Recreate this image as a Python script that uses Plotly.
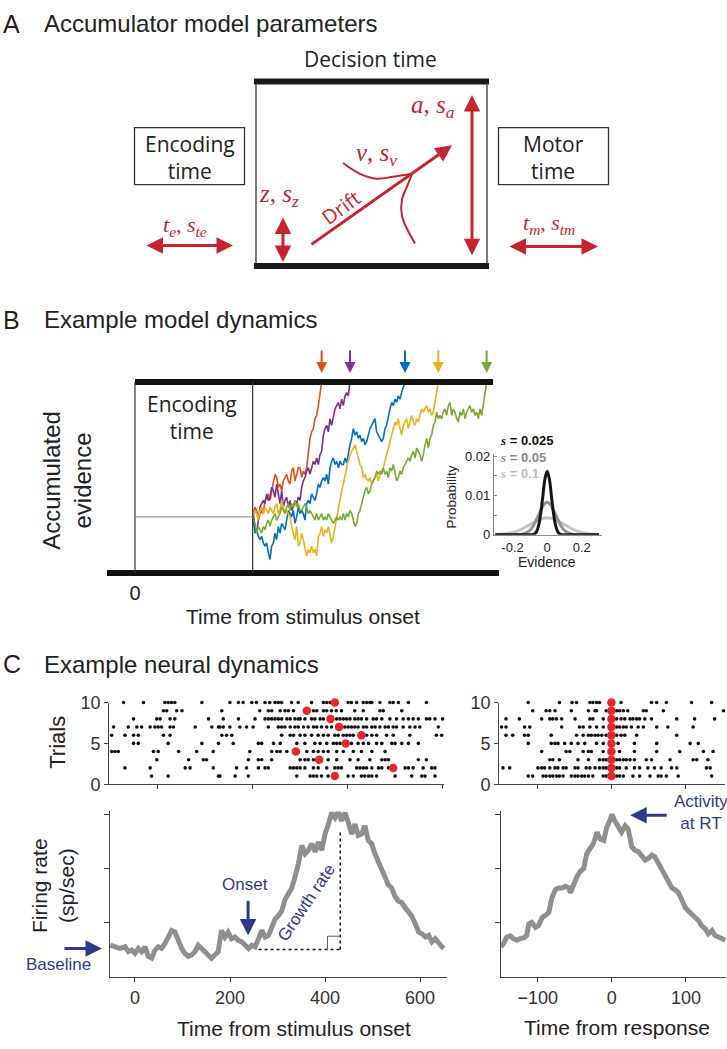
import plotly.graph_objects as go

W, H = 727, 1049

# ---------------- Panel B: example model dynamics (time in ms, evidence in arbitrary units) ----
ENCODING_END = 353
START_EVIDENCE = 172
BOUND = 584
B_T0 = 355
B_DT = 5
orange_ev = [182,202,192,162,182,192,182,222,232,242,222,252,272,302,292,262,272,252,282,292,
             302,282,272,312,322,282,302,322,322,292,312,302,322,362,412,432,442,472,482,512,542,584]
purple_ev = [182,142,122,162,202,212,222,212,242,222,232,262,252,232,272,242,212,252,202,222,
             232,202,222,192,202,222,212,232,222,262,282,292,312,322,302,322,342,332,352,332,
             362,372,422,442,452,432,472,452,482,502,512,522,502,532,512,542,552,542,584]
blue_ev = [162,122,132,112,102,112,92,82,92,62,42,82,92,122,102,142,122,152,142,132,
           162,192,182,172,192,152,172,202,182,192,182,162,212,222,212,242,232,222,242,272,
           262,282,292,282,302,272,322,342,352,332,342,322,342,332,332,352,337,372,392,412,
           442,422,432,412,422,402,412,392,402,422,442,452,462,472,432,422,412,402,412,442,
           452,482,502,522,512,532,522,542,532,552,572,584]
yellow_ev = [182,192,182,162,192,202,182,202,192,182,202,192,182,202,212,182,192,222,202,182,
             192,182,172,142,122,102,142,82,92,122,102,72,52,72,62,82,62,72,52,112,
             122,142,112,132,122,142,112,92,112,142,162,192,222,252,272,302,322,342,362,372,
             382,392,372,352,332,322,292,302,287,282,292,272,282,292,302,282,302,312,322,342,
             362,382,402,422,442,462,452,472,442,422,452,462,472,442,462,482,462,452,472,462,
             482,502,492,502,512,492,502,482,492,522,552,584]
green_ev = [162,152,122,142,132,122,142,132,152,162,142,162,172,182,162,172,182,202,192,182,
            202,212,192,212,202,222,202,212,192,192,202,212,202,182,192,182,172,162,182,162,
            172,182,162,172,162,182,172,162,152,162,172,162,172,162,182,162,182,172,192,182,
            162,142,152,182,192,212,232,252,262,242,252,272,282,292,312,302,312,302,322,302,
            312,292,322,312,332,302,282,292,312,302,322,332,342,352,342,362,372,352,382,372,
            362,342,362,392,412,382,412,422,452,462,492,472,482,472,492,502,482,512,522,482,
            502,492,472,462,492,482,502,472,492,502,512,492,502,482,492,472,502,482,512,542,584]
b_series = [("orange", orange_ev, "#D95319"), ("purple", purple_ev, "#7E2F8E"),
            ("blue", blue_ev, "#0072BD"), ("yellow", yellow_ev, "#EDB120"),
            ("green", green_ev, "#77AC30")]

# ---------------- Panel B inset: evidence noise distributions ----------------
inset_x = [-0.30,-0.25,-0.20,-0.175,-0.15,-0.125,-0.10,-0.0875,-0.075,-0.0625,-0.05,-0.0375,-0.025,-0.0125,0,
           0.0125,0.025,0.0375,0.05,0.0625,0.075,0.0875,0.10,0.125,0.15,0.175,0.20,0.25,0.30]
p_s0025 = [0,0,0,0,0,0,0,0.00005,0.0002,0.0007,0.0022,0.0053,0.0098,0.0143,0.0162,
           0.0143,0.0098,0.0053,0.0022,0.0007,0.0002,0.00005,0,0,0,0,0,0,0]
p_s005 = [0,0,0,0.00002,0.0001,0.0004,0.0011,0.0018,0.0027,0.0038,0.0050,0.0062,0.0073,0.0080,0.0083,
          0.0080,0.0073,0.0062,0.0050,0.0038,0.0027,0.0018,0.0011,0.0004,0.0001,0.00002,0,0,0]
p_s01 = [0.00005,0.0002,0.0006,0.0009,0.0014,0.0020,0.0026,0.0029,0.0032,0.0035,0.0038,0.0040,0.00417,0.00427,0.0043,
         0.00427,0.00417,0.0040,0.0038,0.0035,0.0032,0.0029,0.0026,0.0020,0.0014,0.0009,0.0006,0.0002,0.00005]
inset_labels = ["s = 0.025", "s = 0.05", "s = 0.1"]

# ---------------- Panel C: rasters ----------------
spikes_stim = [
    [-13,22,128,131,163,191,293,321,328,335,345,359,401,412,429,436,444,451,461,500,535,556,563,584],
    [-69,-16,58,68,117,166,187,212,226,233,279,286,293,300,310,328,338,356,373,380,387,419,426,433,440,451,465,472,486,521,528,538,559,577,584],
    [-2,65,96,103,191,212,219,240,300,310,317,328,359,377,405,422,447,472,479,486,549,566],
    [-97,-90,-83,-9,1,44,82,117,194,240,251,258,272,314,328,338,349,359,377,391,412,429,451,479],
    [-51,-41,22,93,128,159,212,219,244,258,293,310,331,342,356,370,377,384,408,422,433,444,461,472,493,500,514,528,549],
    [-97,-69,-51,-41,12,26,135,145,156,261,279,286,300,310,324,338,349,359,373,380,391,398,405,412,440,451,461,482,496,531,587,598],
    [-93,-62,-44,-34,-16,-6,1,8,26,33,79,114,128,131,138,152,173,187,201,233,254,261,268,279,289,296,307,317,328,335,345,356,366,394,401,408,415,422,433,440,451,458,468,479,486,496,503,517,531,542,552,591],
    [-51,-2,5,26,36,107,138,170,205,226,233,240,247,254,261,272,279,289,296,300,310,324,331,342,349,377,384,391,398,405,415,422,429,440,454,461,472,489,503,517,528,538,549,566,573,584,600],
    [12,19,40,51,135,215,233,240,258,268,275,286,328,335,349,356,366,376,387,415,433,468,475,514],
    [-72,-30,15,22,29,36,93,152,170,180,198,208,226,236,247,254,261,282,296,324,349,356,363,401,408,419,433,440,447,451,468,489,496,507,528,566],
]
rt_stim = [373, 496, 340, 291, 396, 429, 382, 364, 314, 373]
spikes_resp = [
    [-112,-106,-92,-88,-83,-79,-74,-70,-65,-54,-49,-45,-40,-36,-31,-25,-11,-7,7,11,16,29,38,52,63,67,74,90,135],
    [-146,-137,-99,-94,-90,-83,-76,-72,-65,-61,-49,-45,-34,-29,-22,-16,-11,-7,7,11,20,31,38,49,58,67,81,88,128,133],
    [-83,-79,-70,-45,-31,-16,-11,-7,7,11,16,20,25,31,47,54,79,110,115,130],
    [-94,-61,-56,-38,-31,-27,-11,11,31,61,92,124,137],
    [-112,-81,-76,-72,-63,-54,-45,-36,-20,-11,9,31,61,106,117],
    [-142,-133,-117,-112,-81,-47,-38,-31,-27,-22,-18,-13,-7,7,13,18,34,88],
    [-148,-142,-117,-110,-67,-43,-38,-29,-20,-11,7,11,16,20,27,36,43,61,76,110],
    [-142,-124,-94,-83,-79,-74,-67,-49,-29,-25,-11,7,13,18,25,29,34,38,45,54,88,112,139],
    [-106,-88,-83,-76,-54,-31,-22,-20,-7,7,11,16,22,43,47,70,151],
    [-112,-70,-53,-47,-29,-25,-20,-16,13,54,61,74,108,135],
]
trials = [1, 2, 3, 4, 5, 6, 7, 8, 9, 10]

# ---------------- Panel C: firing rates ----------------
fr_stim_t = [-52,-42,-32,-21,-14,-7,0,7,14,21,28,35,42,49,56,63,70,77,84,91,98,105,112,119,126,133,140,147,154,161,
             168,175,182,189,196,203,210,217,225,232,239,246,253,260,267,274,281,288,295,302,309,316,323,330,337,344,
             351,358,365,372,379,386,393,400,407,414,421,428,435,442,449,456,463,470,477,484,491,498,505,512,519,526,
             533,540,547,554,561,568,575,582,590,597,604,611,618,625,632,639,646,650]
fr_stim = [11.7,11.1,10.5,11.1,9.3,9.9,8.7,10.5,9.3,11.1,7.5,6.9,9.9,11.1,10.5,12.3,14.7,17.1,16.5,12.9,10.5,8.7,7.5,8.1,9.3,11.7,10.5,9.9,8.7,6.9,
           8.1,9.3,17.1,14.7,16.5,14.1,14.7,13.5,12.9,11.7,10.5,11.7,11.1,14.1,17.1,14.7,15.3,18.3,21.4,22.6,24.4,28.6,30.4,32.8,37.0,41.8,
           48.5,45.4,46.7,49.1,46.1,49.7,46.7,52.7,56.3,60.5,58.7,61.0,57.5,60.5,56.9,52.7,56.3,52.1,52.7,55.7,50.3,49.1,45.4,42.5,38.8,37.0,
           34.0,32.8,29.7,28.0,27.4,25.6,24.4,22.6,19.5,16.5,15.9,14.7,15.3,12.9,14.1,12.3,11.1,10.5]
fr_resp_t = [-150,-146,-142,-137,-133,-128,-124,-119,-115,-112,-108,-103,-99,-94,-90,-85,-81,-76,-72,-67,-63,-58,-56,-52,-47,-43,-38,-34,-29,-25,
             -20,-16,-11,-7,-2,0,4,9,13,18,22,27,31,36,40,45,49,54,58,63,67,72,76,81,85,90,94,99,103,108,112,117,121,126,130,135,139,144,148,153]
fr_resp = [11.1,12.3,14.7,15.1,14.1,13.5,14.1,14.4,15.3,19.5,20.1,18.3,18.9,21.9,22.6,23.8,29.2,32.2,32.8,32.8,33.4,32.8,31.0,34.0,37.0,38.8,40.0,45.4,47.3,49.1,
           53.3,50.9,50.3,55.1,58.1,59.9,57.5,55.1,53.3,55.7,54.5,47.9,46.7,46.1,44.9,43.1,43.7,44.9,44.3,41.8,39.4,36.4,34.6,32.8,32.2,31.0,28.6,25.6,24.4,23.2,
           22.0,20.7,18.9,17.7,15.9,17.1,15.3,14.7,14.1,13.5]
baseline_rate = 10.1
onset_time = 260
growth_end_time = 432
growth_end_rate = 53.3

stim_ticks = [0, 200, 400, 600]
resp_ticks = [-100, 0, 100]

# ---------------- style ----------------
SANS = "Liberation Sans, Arial, sans-serif"
HUMAN = "Open Sans, Liberation Sans, sans-serif"
SERIF = "Liberation Serif, Times New Roman, serif"
RED = "#c6232f"
NAVY = "#2e3a8c"
AX = "#444444"
TXT = "#222222"
FR_GRAY = "#8f8f8f"


def dom_x(a, b):
    return [a / W, b / W]


def dom_y(top, bottom):
    return [1 - bottom / H, 1 - top / H]


fig = go.Figure()

# ---- panel A schematic curve (drift variability) on the page-pixel overlay axis
curve_a1_x = [343, 360, 377, 393, 412]
curve_a1_y = [156, 167, 172, 170, 167]
curve_a2_x = [412, 407, 402, 402, 407, 415]
curve_a2_y = [167, 180, 193, 210, 223, 238]
for cx, cy in [(curve_a1_x, curve_a1_y), (curve_a2_x, curve_a2_y)]:
    fig.add_trace(go.Scatter(x=cx, y=cy, mode="lines", xaxis="x", yaxis="y",
                             line=dict(color=RED, width=2, shape="spline", smoothing=1.0),
                             hoverinfo="skip", showlegend=False))

# ---- panel B traces
for name, ev, col in b_series:
    t = [ENCODING_END] + [B_T0 + B_DT * i for i in range(len(ev))]
    y = [START_EVIDENCE] + ev
    fig.add_trace(go.Scatter(x=t, y=y, mode="lines", xaxis="x2", yaxis="y2", name=name,
                             line=dict(color=col, width=1.6), showlegend=False))

# ---- inset
for p, col in [(p_s01, "#c4c4c4"), (p_s005, "#939393"), (p_s0025, "#151515")]:
    fig.add_trace(go.Scatter(x=inset_x, y=p, mode="lines", xaxis="x3", yaxis="y3",
                             line=dict(color=col, width=3, shape="spline"), showlegend=False))

# ---- rasters
for spikes, axx, axy in [(spikes_stim, "x4", "y4"), (spikes_resp, "x5", "y5")]:
    xs, ys = [], []
    for tr, st in zip(trials, spikes):
        xs += st
        ys += [tr] * len(st)
    fig.add_trace(go.Scatter(x=xs, y=ys, mode="markers", xaxis=axx, yaxis=axy,
                             marker=dict(color="#111111", size=3.6), cliponaxis=False,
                             showlegend=False))
fig.add_trace(go.Scatter(x=rt_stim, y=trials, mode="markers", xaxis="x4", yaxis="y4",
                         marker=dict(color="#e8262b", size=8.5), cliponaxis=False, showlegend=False))
fig.add_trace(go.Scatter(x=[0] * len(trials), y=trials, mode="markers", xaxis="x5", yaxis="y5",
                         marker=dict(color="#e8262b", size=8.5), cliponaxis=False, showlegend=False))

# ---- firing rates
fig.add_trace(go.Scatter(x=fr_stim_t, y=fr_stim, mode="lines", xaxis="x6", yaxis="y6",
                         line=dict(color=FR_GRAY, width=5), cliponaxis=False, showlegend=False))
fig.add_trace(go.Scatter(x=fr_resp_t, y=fr_resp, mode="lines", xaxis="x7", yaxis="y7",
                         line=dict(color=FR_GRAY, width=5), cliponaxis=False, showlegend=False))

shapes = []
annotations = []


def line(x0, y0, x1, y1, color, width, ref=("x", "y"), dash="solid"):
    shapes.append(dict(type="line", x0=x0, y0=y0, x1=x1, y1=y1, xref=ref[0], yref=ref[1],
                       line=dict(color=color, width=width, dash=dash), layer="above"))


def text(x, y, s, size, color=TXT, family=SANS, xanchor="center", angle=0, ref=("x", "y")):
    annotations.append(dict(x=x, y=y, text=s, xref=ref[0], yref=ref[1], showarrow=False,
                            xanchor=xanchor, yanchor="middle", textangle=angle,
                            font=dict(size=size, color=color, family=family)))


def arrow(x, y, ax, ay, color, width=3, size=1.0, side="end", ref=("x", "y"), pixel=False):
    annotations.append(dict(x=x, y=y, ax=ax, ay=ay, xref=ref[0], yref=ref[1],
                            axref="pixel" if pixel else ref[0], ayref="pixel" if pixel else ref[1],
                            text="", showarrow=True, arrowhead=2, arrowsize=size, arrowwidth=width,
                            arrowcolor=color, arrowside=side, standoff=0, startstandoff=0))


# ---------------- panel titles
for lab, ttl, yy in [("A", "Accumulator model parameters", 14), ("B", "Example model dynamics", 316),
                     ("C", "Example neural dynamics", 667)]:
    text(1, yy, lab, 25, xanchor="left")
    text(42, yy, ttl, 24, xanchor="left")

# ---------------- panel A schematic (page-pixel overlay coordinates)
shapes.append(dict(type="rect", x0=134.5, x1=244.5, y0=120, y1=178, xref="x", yref="y",
                   line=dict(color="#333", width=1.3)))
shapes.append(dict(type="rect", x0=498.5, x1=608.5, y0=120, y1=178, xref="x", yref="y",
                   line=dict(color="#333", width=1.3)))
text(189.5, 150, "Encoding<br>time", 21, family=HUMAN)
text(553.5, 150, "Motor<br>time", 21, family=HUMAN)
text(370, 50, "Decision time", 21, family=HUMAN)
line(256, 76, 256, 259, "#333", 1.3)
line(487, 76, 487, 259, "#333", 1.3)
line(254, 73, 489, 73, "#1a1a1a", 6)
line(254, 261, 489, 261, "#1a1a1a", 6)
arrow(233, 240, 145, 240, RED, 3, 1.1, "end+start")
arrow(598, 241, 508, 241, RED, 3, 1.1, "end+start")
arrow(283, 257, 283, 210, RED, 3, 1.1, "end+start")
arrow(472, 250, 472, 85, RED, 3, 1.1, "end+start")
arrow(452, 138, 310, 240, RED, 3, 1.1, "end")
text(341, 201, "Drift", 20, color=RED, family=HUMAN, angle=-36)
text(409, 98, "<i>a</i>, <i>s<sub>a</sub></i>", 25, color=RED, family=SERIF, xanchor="left")
text(354, 147, "<i>v</i>, <i>s<sub>v</sub></i>", 25, color=RED, family=SERIF, xanchor="left")
text(257, 189, "<i>z</i>, <i>s<sub>z</sub></i>", 25, color=RED, family=SERIF, xanchor="left")
text(161, 220, "<i>t<sub>e</sub></i>, <i>s<sub>te</sub></i>", 22, color=RED, family=SERIF, xanchor="left")
text(521, 218, "<i>t<sub>m</sub></i>, <i>s<sub>tm</sub></i>", 22, color=RED, family=SERIF, xanchor="left")

# ---------------- panel B decorations (data coords)
B = ("x2", "y2")
line(0, BOUND, 1074, BOUND, "#111", 6, B)
line(-84, 0, 1092, 0, "#111", 6, B)
line(0, 0, 0, BOUND, "#333", 1.2, B)
line(ENCODING_END, 0, ENCODING_END, BOUND, "#333", 1.2, B)
line(0, START_EVIDENCE, ENCODING_END, START_EVIDENCE, "#999", 1.3, B)
text(170, 477, "Encoding<br>time", 21, family=HUMAN, ref=B)
for name, ev, col in b_series:
    t_hit = B_T0 + B_DT * (len(ev) - 1)
    arrow(t_hit, 612, 0, -24, col, 2, 1.1, pixel=True, ref=B)
text(67, 480, "Accumulated<br>evidence", 24, angle=-90)
text(303, 618, "Time from stimulus onset", 21)

# inset labels
text(452, 497, "Probability", 13.5, angle=-90)
text(547, 563, "Evidence", 14)
for lab, col, yy in zip(inset_labels, ["#111111", "#8a8a8a", "#bdbdbd"], [439, 456, 473]):
    s = lab.replace("s", "<span style='font-family:Liberation Serif;font-style:italic'>s</span>", 1)
    text(498, yy, "<b>" + s + "</b>", 13, color=col, xanchor="left")

# ---------------- panel C decorations
text(58, 747, "Trials", 22, angle=-90)
text(53, 893, "Firing rate<br>(sp/sec)", 21, angle=-90)
text(294, 1038, "Time from stimulus onset", 21)
text(617, 1037, "Time from response", 21)
FL = ("x6", "y6")
line(onset_time, baseline_rate, growth_end_time, baseline_rate, "#111", 1.5, FL, "dot")
line(growth_end_time, baseline_rate, growth_end_time, growth_end_rate, "#111", 1.5, FL, "dot")
line(405, baseline_rate, 405, 15.0, "#555", 1, FL)
line(405, 15.0, growth_end_time, 15.0, "#555", 1, FL)
text(361, 27.4, "Growth rate", 17, color=NAVY, angle=-56, ref=FL)
arrow(238, 15.3, 0, -36, NAVY, 3, 1.1, pixel=True, ref=FL)
text(245, 892, "Onset", 17, color=NAVY)
arrow(102, 956.7, 63, 956.7, NAVY, 3, 1.1)
text(58, 973, "Baseline", 17, color=NAVY)
arrow(24.7, 59.6, 38, 0, NAVY, 3, 1.1, pixel=True, ref=("x7", "y7"))
text(672, 818, "Activity<br>at RT", 17, color=NAVY, xanchor="left")


def std_axis(**kw):
    d = dict(showgrid=False, zeroline=False, showline=True, linecolor=AX, linewidth=1.3,
             tickcolor=AX, tickfont=dict(size=18, color="#333", family=SANS), fixedrange=True)
    d.update(kw)
    return d


fig.update_layout(
    width=W, height=H, margin=dict(l=0, r=0, t=0, b=0),
    paper_bgcolor="white", plot_bgcolor="rgba(0,0,0,0)", showlegend=False,
    font=dict(family=SANS, color=TXT),
    xaxis=dict(domain=[0, 1], range=[0, W], visible=False, fixedrange=True),
    yaxis=dict(domain=[0, 1], range=[H, 0], visible=False, fixedrange=True),
    xaxis2=dict(domain=dom_x(107, 499), range=[-84, 1092], anchor="y2", showgrid=False,
                zeroline=False, showline=False, ticks="", tickvals=[0], ticktext=["0"],
                tickfont=dict(size=20, color="#222")),
    yaxis2=dict(domain=dom_y(370, 580), range=[-18, 612], anchor="x2", visible=False),
    xaxis3=std_axis(domain=dom_x(494, 602), range=[-0.307, 0.317], anchor="y3", linecolor="#8a8a8a",
                    tickvals=[-0.2, 0, 0.2], ticktext=["-0.2", "0", "0.2"], ticks="",
                    tickfont=dict(size=13, color="#222")),
    yaxis3=std_axis(domain=dom_y(453, 535), range=[0, 0.0205], anchor="x3", linecolor="#8a8a8a",
                    tickvals=[0, 0.005, 0.01, 0.015, 0.02], ticktext=["0", "", "0.01", "", "0.02"],
                    ticks="inside", ticklen=3, tickcolor="#8a8a8a", tickfont=dict(size=13, color="#222")),
    xaxis4=std_axis(domain=dom_x(109.3, 444), range=[-102, 603], anchor="y4", tickvals=stim_ticks,
                    ticks="outside", ticklen=4, showticklabels=False),
    yaxis4=std_axis(domain=dom_y(706, 789.3), range=[0, 10], anchor="x4", tickvals=[0, 5, 10],
                    ticks="outside", ticklen=4),
    xaxis5=std_axis(domain=dom_x(499.3, 725), range=[-151, 153], anchor="y5", tickvals=resp_ticks,
                    ticks="outside", ticklen=4, showticklabels=False),
    yaxis5=std_axis(domain=dom_y(706, 789.3), range=[0, 10], anchor="x5", tickvals=[0, 5, 10],
                    ticks="outside", ticklen=4),
    xaxis6=std_axis(domain=dom_x(110, 446.7), range=[-52.6, 656], anchor="y6", tickvals=stim_ticks,
                    ticks="outside", ticklen=4),
    yaxis6=std_axis(domain=dom_y(817, 985.7), range=[0, 61], anchor="x6", tickvals=[20, 40, 60],
                    ticks="outside", ticklen=5, showticklabels=False),
    xaxis7=std_axis(domain=dom_x(500.7, 726), range=[-150, 154], anchor="y7", tickvals=resp_ticks,
                    ticks="outside", ticklen=4),
    yaxis7=std_axis(domain=dom_y(817, 985.7), range=[0, 61], anchor="x7", tickvals=[20, 40, 60],
                    ticks="outside", ticklen=5, showticklabels=False),
    shapes=shapes, annotations=annotations,
)

fig.write_html("out.html", config={"displayModeBar": False},
               post_script="document.body.style.margin='0';document.body.style.overflow='hidden';")
